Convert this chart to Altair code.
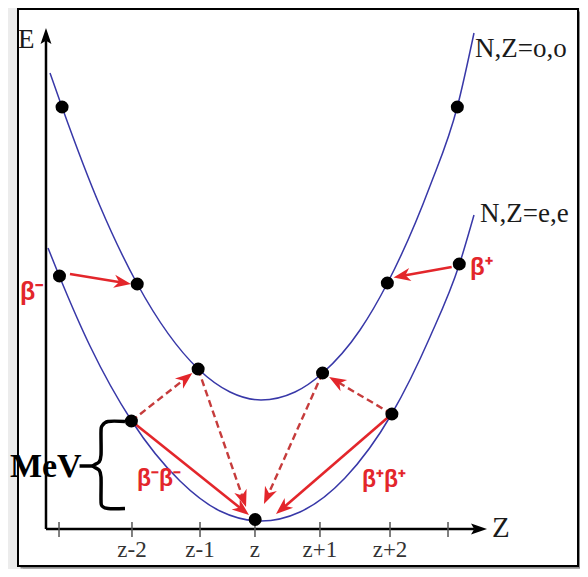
import math
import altair as alt
import pandas as pd

# ---------------- scale domains (Z units, arbitrary energy units) ----------------
X_DOMAIN = [-3.75, 4.892]
E_DOMAIN = [-3.7, 52.0]
PLOT_W, PLOT_H = 560, 557

# ---------------- mass parabolas ----------------
oo_curve_z = [-3.256, -3.071, -2.485, -1.909, -0.968, -0.478, 0.0, 0.525, 0.952, 1.528, 1.952, 2.608, 3.029, 3.287]
oo_curve_E = [45.6, 42.2, 32.3, 24.5, 16.0, 13.7, 12.9, 13.7, 15.6, 19.9, 24.6, 34.3, 42.2, 49.6]
ee_curve_z = [-3.287, -3.113, -2.639, -1.995, -1.25, -0.633, 0.0, 0.602, 1.296, 2.017, 2.608, 3.063, 3.287]
ee_curve_E = [28.1, 25.3, 18.3, 10.8, 4.8, 1.8, 0.8, 1.7, 5.1, 11.5, 19.2, 26.5, 31.4]

# ---------------- nuclei (dots) ----------------
oo_dot_z = [-3.07, -1.91, -0.97, 0.95, 1.95, 3.03]
oo_dot_E = [42.2, 24.5, 16.0, 15.6, 24.6, 42.2]
ee_dot_z = [-3.11, -2.0, -0.09, 2.02, 3.06]
ee_dot_E = [25.3, 10.8, 0.95, 11.5, 26.5]

# ---------------- decay arrows ----------------
arrow_z0 = [-2.948, 2.943, -2.0, 2.02, -2.0, -0.97, 0.95, 2.02]
arrow_E0 = [25.5, 26.2, 10.8, 11.5, 10.8, 16.0, 15.6, 11.5]
arrow_z1 = [-2.006, 2.045, -0.185, 0.231, -1.059, -0.231, 0.046, 1.051]
arrow_E1 = [24.5, 25.15, 1.4, 1.5, 15.6, 2.2, 2.5, 15.2]
arrow_kind = ["solid", "solid", "solid", "solid", "dashed", "dashed", "dashed", "dashed"]

# ---------------- axes ----------------
axis_origin_z, axis_origin_E = -3.318, 0.0
e_axis_tip = 50.1
z_axis_tip = 3.488
tick_z = [-3.117, -1.991, -0.941, -0.093, 0.910, 1.991, 2.886]
tick_labels = ["", "z-2", "z-1", "z", "z+1", "z+2", ""]
tick_E_low, tick_E_high, tick_label_E = -0.8, 0.7, -2.1

# ---------------- brace (MeV) ----------------
brace_z = [-2.099, -2.361, -2.454, -2.469, -2.469, -2.5, -2.593, -2.5, -2.469, -2.469, -2.454, -2.361, -2.099]
brace_E = [10.75, 10.75, 10.3, 9.7, 7.4, 6.7, 6.3, 5.9, 5.2, 2.9, 2.3, 2.05, 2.05]
brace_link_z = [-2.80, -2.593]
brace_link_E = 6.3

# ---------------- labels ----------------
beta_text = ["β⁻", "β⁺", "β⁻β⁻", "β⁺β⁺"]
beta_z = [-3.719, 3.225, -1.914, 1.559]
beta_E = [23.7, 26.1, 5.0, 4.9]
beta_size = [25, 24, 23, 23]
serif_text = ["E", "Z", "N,Z=o,o", "N,Z=e,e"]
serif_z = [-3.75, 3.565, 3.302, 3.38]
serif_E = [48.9, 0.1, 48.0, 31.5]
serif_size = [27, 29, 27, 27]
mev_z, mev_E = -3.875, 6.2

RED = "#e3262b"
DASH_RED = "#c63c3c"
BLUE = "#3838a8"

xs = alt.Scale(domain=X_DOMAIN, nice=False, zero=False)
ys = alt.Scale(domain=E_DOMAIN, nice=False, zero=False)


def X(f):
    return alt.X(f, type="quantitative", scale=xs, axis=None)


def Y(f):
    return alt.Y(f, type="quantitative", scale=ys, axis=None)


px_per_z = PLOT_W / (X_DOMAIN[1] - X_DOMAIN[0])
px_per_E = PLOT_H / (E_DOMAIN[1] - E_DOMAIN[0])

HEAD = "M0,0 L0.42,1.1 L0,0.78 L-0.42,1.1 Z"
HEAD_SCALE = 15.5
HEAD_SIZE = (2 * HEAD_SCALE) ** 2


def arrow_frame(z0, E0, z1, E1, kinds, back):
    rows = []
    for a, b, c, d, k in zip(z0, E0, z1, E1, kinds):
        dxp = (c - a) * px_per_z
        dyp = -(d - b) * px_per_E
        L = math.hypot(dxp, dyp)
        ux, uy = dxp / L, dyp / L
        ang = math.degrees(math.atan2(dxp, -dyp)) % 360
        rows.append({"z0": a, "E0": b, "z1": c, "E1": d, "kind": k,
                     "zs": c - ux * back / px_per_z, "Es": d + uy * back / px_per_E,
                     "angle": ang})
    return pd.DataFrame(rows)


arrows = arrow_frame(arrow_z0, arrow_E0, arrow_z1, arrow_E1, arrow_kind, 0.7 * HEAD_SCALE)
solid_df = arrows[arrows["kind"] == "solid"].reset_index(drop=True)
dashed_df = arrows[arrows["kind"] == "dashed"].reset_index(drop=True)

frame_df = pd.DataFrame({"z0": [X_DOMAIN[0]], "z1": [X_DOMAIN[1]], "e0": [E_DOMAIN[0]], "e1": [E_DOMAIN[1]]})

shadow1 = alt.Chart(frame_df).mark_rect(fill="#c9c9c9", xOffset=5, x2Offset=5, yOffset=5, y2Offset=5).encode(
    x=X("z0"), x2="z1", y=Y("e0"), y2="e1")
shadow2 = alt.Chart(frame_df).mark_rect(fill="#8c8c8c", xOffset=2.5, x2Offset=2.5, yOffset=2.5, y2Offset=2.5).encode(
    x=X("z0"), x2="z1", y=Y("e0"), y2="e1")
frame = alt.Chart(frame_df).mark_rect(fill="white", stroke="black", strokeWidth=2).encode(
    x=X("z0"), x2="z1", y=Y("e0"), y2="e1")

oo_line = alt.Chart(pd.DataFrame({"z": oo_curve_z, "E": oo_curve_E})).mark_line(
    color=BLUE, strokeWidth=1.5, interpolate="monotone").encode(x=X("z"), y=Y("E"))
ee_line = alt.Chart(pd.DataFrame({"z": ee_curve_z, "E": ee_curve_E})).mark_line(
    color=BLUE, strokeWidth=1.5, interpolate="monotone").encode(x=X("z"), y=Y("E"))

solid_shafts = alt.Chart(solid_df).mark_rule(color=RED, strokeWidth=2.6).encode(
    x=X("z0"), y=Y("E0"), x2="zs", y2="Es")
dashed_shafts = alt.Chart(dashed_df).mark_rule(
    color=DASH_RED, strokeWidth=2.4, strokeDash=[7, 4]).encode(x=X("z0"), y=Y("E0"), x2="zs", y2="Es")
heads = alt.Chart(arrows).mark_point(shape=HEAD, filled=True, size=HEAD_SIZE, color=RED, opacity=1,
                                      strokeWidth=0).encode(
    x=X("z1"), y=Y("E1"), angle=alt.Angle("angle:Q", scale=None))

dots_df = pd.DataFrame({"z": oo_dot_z + ee_dot_z, "E": oo_dot_E + ee_dot_E})
dots = alt.Chart(dots_df).mark_circle(size=170, color="black", opacity=1).encode(x=X("z"), y=Y("E"))

axis_lines = pd.DataFrame({
    "z0": [axis_origin_z, axis_origin_z],
    "E0": [axis_origin_E, axis_origin_E],
    "z1": [axis_origin_z, z_axis_tip - 13 / px_per_z],
    "E1": [e_axis_tip - 13 / px_per_E, axis_origin_E],
})
axes = alt.Chart(axis_lines).mark_rule(color="black", strokeWidth=2.5).encode(
    x=X("z0"), y=Y("E0"), x2="z1", y2="E1")
axis_heads_df = pd.DataFrame({"z": [axis_origin_z, z_axis_tip], "E": [e_axis_tip, axis_origin_E], "angle": [0.0, 90.0]})
AXIS_HEAD = "M0,0 L0.34,1 L0,0.8 L-0.34,1 Z"
axis_heads = alt.Chart(axis_heads_df).mark_point(shape=AXIS_HEAD, filled=True, size=(2 * 16) ** 2,
                                                   color="black", opacity=1, strokeWidth=0).encode(
    x=X("z"), y=Y("E"), angle=alt.Angle("angle:Q", scale=None))

ticks_df = pd.DataFrame({"z": tick_z, "label": tick_labels,
                         "lo": [tick_E_low] * len(tick_z), "hi": [tick_E_high] * len(tick_z),
                         "ly": [tick_label_E] * len(tick_z)})
ticks = alt.Chart(ticks_df).mark_rule(color="#555555", strokeWidth=1.5).encode(
    x=X("z"), y=Y("lo"), y2="hi")
tick_text = alt.Chart(ticks_df).mark_text(font="Liberation Serif", fontSize=23, color="#333333",
                                          baseline="middle").encode(
    x=X("z"), y=Y("ly"), text="label:N")

brace_df = pd.DataFrame({"z": brace_z, "E": brace_E, "i": list(range(len(brace_z)))})
brace = alt.Chart(brace_df).mark_line(color="black", strokeWidth=3.5, interpolate="cardinal",
                                      strokeJoin="round").encode(
    x=X("z"), y=Y("E"), order="i:Q")
brace_link = alt.Chart(pd.DataFrame({"z0": [brace_link_z[0]], "z1": [brace_link_z[1]], "E": [brace_link_E]})).mark_rule(
    color="black", strokeWidth=3.5).encode(x=X("z0"), x2="z1", y=Y("E"))
mev = alt.Chart(pd.DataFrame({"z": [mev_z], "E": [mev_E], "t": ["MeV"]})).mark_text(
    font="Liberation Serif", fontSize=34, fontWeight="bold", color="black", align="left",
    baseline="middle").encode(x=X("z"), y=Y("E"), text="t:N")

beta_labels = alt.Chart(pd.DataFrame({"z": beta_z, "E": beta_E, "t": beta_text, "s": beta_size})).mark_text(
    font="Liberation Sans", fontWeight="bold", color=RED, align="left",
    baseline="middle").encode(x=X("z"), y=Y("E"), text="t:N", size=alt.Size("s:Q", scale=None))

serif_labels = alt.Chart(pd.DataFrame({"z": serif_z, "E": serif_E, "t": serif_text, "s": serif_size})).mark_text(
    font="Liberation Serif", color="#1a1a1a", align="left", baseline="middle").encode(
    x=X("z"), y=Y("E"), text="t:N", size=alt.Size("s:Q", scale=None))

chart = alt.layer(
    shadow1, shadow2, frame, oo_line, ee_line, solid_shafts, dashed_shafts, heads,
    axes, axis_heads, ticks, tick_text, dots, brace, brace_link, mev, beta_labels, serif_labels
).properties(
    width=PLOT_W, height=PLOT_H, autosize="none",
    padding={"left": 10, "top": 1, "right": 2, "bottom": 3},
    background="#ececec",
).configure_view(stroke=None)

chart.save("out.html", embed_options={"renderer": "svg", "actions": False})
